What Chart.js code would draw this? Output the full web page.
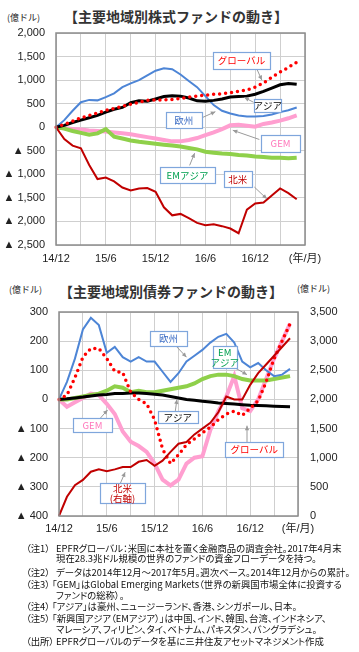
<!DOCTYPE html>
<html>
<head>
<meta charset="utf-8">
<script src="https://cdn.jsdelivr.net/npm/chart.js@4.4.1/dist/chart.umd.min.js"></script>
<style>
body{margin:0;width:359px;height:652px;background:#fff;position:relative;overflow:hidden;font-family:"Noto Sans CJK JP",sans-serif;}
.abs{position:absolute;white-space:nowrap;}
.ttl{font-weight:bold;font-size:14px;color:#333;line-height:16px;transform:translateX(-50%);}
.unit{font-size:9px;color:#222;line-height:10px;}
.note{font-size:9.4px;color:#111;line-height:10px;font-feature-settings:"palt";}
canvas{position:absolute;left:0;}
</style>
</head>
<body>
<div class="abs ttl" style="left:176px;top:8px">【主要地域別株式ファンドの動き】</div>
<div class="abs unit" style="left:7px;top:13px">(億ドル)</div>
<canvas id="stock" width="359" height="265" style="top:0"></canvas>

<div class="abs ttl" style="left:171px;top:283px">【主要地域別債券ファンドの動き】</div>
<div class="abs unit" style="left:9px;top:285px">(億ドル)</div>
<div class="abs unit" style="left:297px;top:284px">(億ドル)</div>
<canvas id="bond" width="359" height="280" style="top:265px"></canvas>

<div id="notes"></div>

<script>
// months, weekly data read off roughly once a month (cumulative since 2014/12)
var months = ['14/12','15/1','15/2','15/3','15/4','15/5','15/6','15/7','15/8','15/9','15/10','15/11',
              '15/12','16/1','16/2','16/3','16/4','16/5','16/6','16/7','16/8','16/9','16/10','16/11',
              '16/12','17/1','17/2','17/3','17/4','17/5','17/6'];
var shownTicks = ['14/12','15/6','15/12','16/6','16/12'];
var unitX = '(年/月)';

// stock funds (億ドル)
var stockGlobal = [0,60,130,200,250,300,360,400,440,490,530,570,580,580,590,610,640,660,680,700,710,730,760,790,850,940,1060,1170,1270,1380];
var stockAsia   = [0,40,100,150,200,250,320,380,420,520,560,550,600,650,670,660,620,560,550,570,600,640,650,660,700,760,830,900,930,910];
var stockEurope = [0,150,350,530,580,570,640,720,850,930,1000,1100,1200,1250,1230,1120,980,850,660,470,350,290,250,230,230,240,270,320,360,420];
var stockGEM    = [0,-20,-40,-50,-70,-80,-90,-110,-130,-150,-180,-210,-240,-270,-300,-300,-270,-230,-170,-110,-40,40,50,30,10,70,100,140,190,250];
var stockEMAsia = [0,-30,-80,-120,-160,-130,-40,-200,-240,-280,-310,-330,-350,-370,-390,-410,-440,-470,-520,-540,-560,-570,-590,-600,-620,-630,-650,-650,-660,-650];
var stockNA     = [0,-250,-390,-450,-800,-1100,-1070,-1150,-1280,-1340,-1300,-1290,-1370,-1700,-1870,-1840,-1930,-2030,-2080,-2060,-2100,-2150,-2250,-1750,-1620,-1600,-1450,-1300,-1400,-1530];

// bond funds (億ドル), North America on the right axis
var bondGlobal = [0,15,75,145,175,175,140,97,92,25,0,-15,-70,-170,-220,-190,-155,-135,-115,-95,-70,-50,-40,-55,-30,-5,60,140,200,260];
var bondAsia   = [0,2,5,8,12,15,17,20,20,22,22,20,18,15,10,5,0,-3,-6,-9,-12,-14,-16,-18,-20,-21,-22,-23,-24,-25];
var bondEurope = [0,60,140,240,280,255,160,180,145,130,145,130,130,95,60,90,130,150,170,195,215,225,195,130,110,125,100,80,85,105];
var bondGEM    = [0,-25,-10,5,20,15,-15,-50,-110,-145,-160,-180,-220,-275,-295,-275,-220,-200,-195,-105,-40,10,80,-30,-40,0,70,140,200,260];
var bondEMAsia = [0,0,5,10,15,20,30,45,40,25,30,25,25,30,35,40,45,55,70,80,85,85,80,70,65,65,65,70,75,80];
var bondNA     = [0,330,530,620,760,800,770,800,840,840,930,960,860,950,1100,1240,1270,1400,1500,1600,1780,2050,2000,2000,2250,2450,2600,2750,2900,3050];

var C = {global:'#ff0000', asia:'#000000', europe:'#4d85d6', gem:'#ff9fd0', emasia:'#8fd04a', na:'#c00000'};
var tickFont = {family:'"Liberation Sans","Noto Sans CJK JP",sans-serif', size:11};

function fmt(v){
    var s = Math.abs(v).toLocaleString('en-US');
    return v < 0 ? '▲ ' + s : s;
}

function line(data, color, width, axis, dotted){
    var ds = {data: data, borderColor: color, borderWidth: width, pointRadius: 0, tension: 0, fill: false, yAxisID: axis || 'y'};
    if (dotted) { ds.borderDash = [0, 6]; ds.borderCapStyle = 'round'; }
    return ds;
}

// callout boxes with a grey arrow, placed in data units
var calloutPlugin = {
    id: 'callouts',
    afterDatasetsDraw(chart, args, opts) {
        var ctx = chart.ctx, xs = chart.scales.x;
        for (var n of opts.items) {
            var ys = chart.scales[n.axis || 'y'];
            var P = p => [xs.getPixelForValue(p[0]), ys.getPixelForValue(p[1])];
            var a = P(n.from), b = P(n.to);
            ctx.save();
            ctx.strokeStyle = '#9a9a9a'; ctx.fillStyle = '#9a9a9a'; ctx.lineWidth = 1;
            ctx.beginPath(); ctx.moveTo(a[0], a[1]); ctx.lineTo(b[0], b[1]); ctx.stroke();
            var ang = Math.atan2(b[1]-a[1], b[0]-a[0]);
            ctx.beginPath(); ctx.moveTo(b[0], b[1]);
            ctx.lineTo(b[0]-5*Math.cos(ang-0.45), b[1]-5*Math.sin(ang-0.45));
            ctx.lineTo(b[0]-5*Math.cos(ang+0.45), b[1]-5*Math.sin(ang+0.45));
            ctx.closePath(); ctx.fill();
            var c = P(n.at), x0 = Math.round(c[0]-n.w/2)+0.5, y0 = Math.round(c[1]-n.h/2)+0.5;
            ctx.fillStyle = '#fff'; ctx.fillRect(x0, y0, n.w, n.h);
            ctx.strokeStyle = '#7fa6dc'; ctx.lineWidth = 1.2; ctx.strokeRect(x0, y0, n.w, n.h);
            ctx.fillStyle = n.color; ctx.font = '9.5px "Noto Sans CJK JP"';
            ctx.textAlign = 'center'; ctx.textBaseline = 'middle';
            var lh = 10, top = c[1] - (n.text.length-1)*lh/2;
            n.text.forEach((t, i) => ctx.fillText(t, c[0], top + i*lh));
            ctx.restore();
        }
    }
};

var framePlugin = {
    id: 'frame',
    afterDraw(chart) {
        var a = chart.chartArea, ctx = chart.ctx;
        ctx.save(); ctx.strokeStyle = '#8c8c8c'; ctx.lineWidth = 1.5;
        ctx.strokeRect(a.left, a.top, a.right - a.left, a.bottom - a.top);
        ctx.restore();
    }
};

function xScale(h, pad){
    return {
        type: 'category',
        grid: {color: c => c.index % 3 === 0 ? '#cfcfcf' : 'rgba(0,0,0,0)', drawTicks: false},
        border: {display: false},
        ticks: {autoSkip: false, maxRotation: 0, padding: pad, color: '#222', font: tickFont,
            callback: function(v, i){ var l = months[i]; return i === months.length-1 ? unitX : (shownTicks.includes(l) ? l : ''); }},
        afterFit: s => { s.height = h; }
    };
}

Chart.defaults.animation = false;
Chart.defaults.plugins.legend.display = false;
Chart.defaults.plugins.tooltip.enabled = false;

new Chart(document.getElementById('stock'), {
    type: 'line',
    data: {
        labels: months,
        datasets: [
            line(stockNA, C.na, 2),
            line(stockGlobal, C.global, 3.5, 'y', true),
            line(stockAsia, C.asia, 3),
            line(stockEurope, C.europe, 2),
            line(stockEMAsia, C.emasia, 4),
            line(stockGEM, C.gem, 4)
        ]
    },
    options: {
        responsive: false,
        layout: {padding: {left: 0, right: 54, top: 33, bottom: 0}},
        scales: {
            x: xScale(20, 7),
            y: {min: -2500, max: 2000,
                ticks: {stepSize: 500, padding: 11, color: '#222', font: tickFont, callback: v => fmt(v)},
                grid: {color: '#cfcfcf', drawTicks: false}, border: {display: false},
                afterFit: s => { s.width = 56; }}
        },
        plugins: {callouts: {items: [
            {text: ['グローバル'], color: '#ff0000', at: [22.35, 1415], w: 57, h: 17, from: [24.2, 1235], to: [24.8, 1000]},
            {text: ['アジア'], color: '#000', at: [25.5, 458], w: 27, h: 13, from: [23.8, 530], to: [22.7, 630]},
            {text: ['欧州'], color: '#3b6cc4', at: [15.4, 149], w: 36, h: 16, from: [17.7, 210], to: [19.2, 330]},
            {text: ['GEM'], color: '#ff77bb', at: [27.05, -351], w: 39, h: 17, from: [24.5, -260], to: [21.3, -65]},
            {text: ['EMアジア'], color: '#00a050', at: [15.84, -1021], w: 55, h: 16, from: [16.1, -810], to: [16.7, -550]},
            {text: ['北米'], color: '#c00000', at: [21.9, -1107], w: 28, h: 16, from: [23.9, -1270], to: [25.4, -1520]}
        ]}}
    },
    plugins: [calloutPlugin, framePlugin]
});

new Chart(document.getElementById('bond'), {
    type: 'line',
    data: {
        labels: months,
        datasets: [
            line(bondNA, C.na, 2, 'y1'),
            line(bondGlobal, C.global, 3.5, 'y', true),
            line(bondAsia, C.asia, 3),
            line(bondEurope, C.europe, 2),
            line(bondEMAsia, C.emasia, 4),
            line(bondGEM, C.gem, 4)
        ]
    },
    options: {
        responsive: false,
        layout: {padding: {left: 0, right: 0, top: 47, bottom: 0}},
        scales: {
            x: xScale(29, 6),
            y: {position: 'left', min: -400, max: 300,
                ticks: {stepSize: 100, padding: 11, color: '#222', font: tickFont, callback: v => fmt(v)},
                grid: {color: '#cfcfcf', drawTicks: false}, border: {display: false},
                afterFit: s => { s.width = 59; }},
            y1: {position: 'right', min: 0, max: 3500,
                ticks: {stepSize: 500, padding: 12, color: '#222', font: tickFont, callback: v => fmt(v)},
                grid: {drawOnChartArea: false, drawTicks: false}, border: {display: false},
                afterFit: s => { s.width = 61; }}
        },
        plugins: {callouts: {items: [
            {text: ['欧州'], color: '#3b6cc4', at: [13.74, 210], w: 37, h: 15, from: [14.8, 180], to: [16.0, 145]},
            {text: ['EM', 'アジア'], color: '#00a050', at: [20.8, 144], w: 24, h: 22, from: [22.1, 108], to: [23.6, 85]},
            {text: ['GEM'], color: '#ff77bb', at: [4.2, -88], w: 39, h: 14, from: [5.2, -64], to: [6.1, -36]},
            {text: ['アジア'], color: '#000', at: [14.9, -60], w: 40, h: 12, from: [14.6, -40], to: [14.8, 0]},
            {text: ['北米', '(右軸)'], color: '#c00000', at: [7.97, -321], w: 45, h: 20, from: [7.7, -288], to: [8.3, -250]},
            {text: ['グローバル'], color: '#ff0000', at: [24.5, -172], w: 58, h: 15, from: [23.6, -147], to: [23.6, -90]}
        ]}}
    },
    plugins: [calloutPlugin, framePlugin]
});

// footnotes
var noteLines = [
    ['（注1）', 'EPFRグローバル：米国に本社を置く金融商品の調査会社。2017年4月末', 548],
    ['', '現在28.3兆ドル規模の世界のファンドの資金フローデータを持つ。', 558],
    ['（注2）', 'データは2014年12月～2017年5月。週次ベース。2014年12月からの累計。', 572],
    ['（注3）', '「GEM」はGlobal  Emerging Markets（世界の新興国市場全体に投資する', 584],
    ['', 'ファンドの総称）。', 595],
    ['（注4）', '「アジア」は豪州、ニュージーランド、香港、シンガポール、日本。', 606],
    ['（注5）', '「新興国アジア（EMアジア）」は中国、インド、韓国、台湾、インドネシア、', 618],
    ['', 'マレーシア、フィリピン、タイ、ベトナム、パキスタン、バングラデシュ。', 629],
    ['（出所）', 'EPFRグローバルのデータを基に三井住友アセットマネジメント作成', 641]
];
var box = document.getElementById('notes');
noteLines.forEach(function(l){
    if (l[0]) {
        var p = document.createElement('div');
        p.className = 'abs note'; p.style.left = '26px'; p.style.top = (l[2]-5) + 'px';
        p.textContent = l[0]; box.appendChild(p);
    }
    var d = document.createElement('div');
    d.className = 'abs note';
    d.style.left = (l[1].charAt(0) === '「' ? 52 : 56) + 'px';
    d.style.top = (l[2]-5) + 'px';
    d.textContent = l[1]; box.appendChild(d);
});
</script>
</body>
</html>
